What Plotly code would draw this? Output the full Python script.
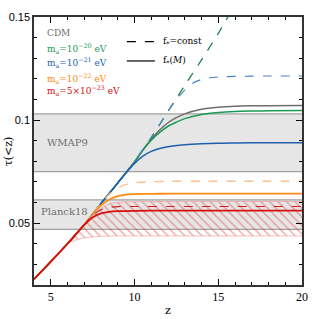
import plotly.graph_objects as go

# ---------------- data ----------------
Z_MAIN = [4, 5, 6, 7, 8, 9, 10, 11, 12, 13, 14, 15, 16]
TAU_MAIN = [0.0228, 0.0313, 0.0400, 0.0492, 0.0595, 0.0695, 0.0797, 0.0915,
            0.1042, 0.1168, 0.1292, 0.1420, 0.1560]

Z_CDM_SOLID = [4, 5, 6, 7, 8, 9, 10, 10.5, 11, 11.5, 12, 12.5, 13, 14, 15, 16, 17, 18, 20]
TAU_CDM_SOLID = [0.0228, 0.0313, 0.0400, 0.0492, 0.0595, 0.0695, 0.0797, 0.0855, 0.0907,
                 0.0952, 0.0987, 0.1012, 0.1030, 0.1052, 0.1062, 0.1067, 0.1069, 0.1070, 0.1071]

Z_M20_SOLID = [4, 5, 6, 7, 8, 9, 10, 10.5, 11, 11.5, 12, 12.5, 13, 14, 15, 16, 17, 18, 20]
TAU_M20_SOLID = [0.0228, 0.0313, 0.0400, 0.0492, 0.0595, 0.0695, 0.0797, 0.0855, 0.0902,
                 0.0940, 0.0970, 0.0990, 0.1007, 0.1027, 0.1037, 0.1042, 0.1044, 0.1045, 0.1046]

Z_M21_DASH = [4, 5, 6, 7, 8, 9, 10, 11, 12, 12.5, 13, 13.5, 14, 14.5, 15, 16, 17, 18, 20]
TAU_M21_DASH = [0.0228, 0.0313, 0.0400, 0.0492, 0.0595, 0.0695, 0.0797, 0.0915, 0.1042,
                0.1100, 0.1145, 0.1180, 0.1197, 0.1205, 0.1209, 0.1212, 0.1213, 0.1214, 0.1214]

Z_M21_SOLID = [4, 5, 6, 7, 8, 9, 9.5, 10, 10.5, 11, 11.5, 12, 13, 14, 15, 16, 18, 20]
TAU_M21_SOLID = [0.0228, 0.0313, 0.0400, 0.0492, 0.0595, 0.0695, 0.0745, 0.0790, 0.0825,
                 0.0848, 0.0862, 0.0871, 0.0880, 0.0885, 0.0888, 0.0889, 0.0890, 0.0890]

Z_M22_DASH = [4, 5, 6, 7, 8, 8.5, 9, 9.5, 10, 11, 12, 14, 20]
TAU_M22_DASH = [0.0228, 0.0313, 0.0400, 0.0492, 0.0595, 0.0640, 0.0671, 0.0688, 0.0696,
                0.0701, 0.0703, 0.0703, 0.0703]

Z_M22_SOLID = [4, 5, 6, 7, 7.5, 8, 8.5, 9, 9.5, 10, 11, 12, 14, 20]
TAU_M22_SOLID = [0.0228, 0.0313, 0.0400, 0.0492, 0.0542, 0.0586, 0.0615, 0.0631, 0.0638,
                 0.0641, 0.0642, 0.0643, 0.0643, 0.0643]

Z_M5_DASH = [4, 5, 6, 7, 7.5, 8, 8.5, 9, 10, 12, 14, 20]
TAU_M5_DASH = [0.0228, 0.0313, 0.0400, 0.0492, 0.0538, 0.0565, 0.0576, 0.0580, 0.0581,
               0.0581, 0.0581, 0.0581]

Z_M5_SOLID = [4, 5, 6, 7, 7.5, 8, 8.5, 9, 10, 12, 14, 20]
TAU_M5_SOLID = [0.0228, 0.0313, 0.0400, 0.0492, 0.0528, 0.0547, 0.0555, 0.0558, 0.0560,
                0.0561, 0.0561, 0.0561]

Z_HATCH = [4, 5, 6, 6.5, 7, 7.5, 8, 8.5, 9, 10, 12, 14, 20]
TAU_HATCH_HI = [0.0228, 0.0313, 0.0400, 0.0446, 0.0492, 0.0538, 0.0572, 0.0594, 0.0601,
                0.0604, 0.0605, 0.0605, 0.0605]
TAU_HATCH_LO = [0.0228, 0.0313, 0.0400, 0.0418, 0.0428, 0.0433, 0.0436, 0.0437, 0.0438,
                0.0438, 0.0438, 0.0438, 0.0438]

WMAP9_BAND = [0.075, 0.103]
PLANCK18_BAND = [0.047, 0.0613]

LEGEND_LABELS = ["CDM", "m<sub>a</sub>=10<sup>−20</sup> eV", "m<sub>a</sub>=10<sup>−21</sup> eV",
                 "m<sub>a</sub>=10<sup>−22</sup> eV", "m<sub>a</sub>=5×10<sup>−23</sup> eV"]
LEGEND_COLORS = ["#6e6e6e", "#1a9a55", "#1f5fae", "#ff8a10", "#d40f0f"]
LINESTYLE_LABELS = ["f<sub>*</sub>=const", "f<sub>*</sub>(<i>M</i>)"]

X_TICKS = [5, 10, 15, 20]
Y_TICKS = [0.05, 0.1, 0.15]
Y_TICK_TEXT = ["0.05", "0.1", "0.15"]

# ---------------- figure ----------------
GREY, GREEN, BLUE, ORANGE, RED = LEGEND_COLORS
SERIF = "DejaVu Serif"
SANS = "Liberation Sans"

fig = go.Figure()

def line(x, y, color, dash="solid", width=1.5):
    fig.add_trace(go.Scatter(x=x, y=y, mode="lines", showlegend=False, hoverinfo="skip",
                             line=dict(color=color, width=width, dash=dash,
                                       shape="spline", smoothing=0.8)))

# CDM & 1e-20 dashed follow the main curve
line(Z_MAIN, TAU_MAIN, GREY, "dash", 1.1)
line(Z_CDM_SOLID, TAU_CDM_SOLID, GREY)
line(Z_MAIN, TAU_MAIN, GREEN, "dash", 1.1)
line(Z_M20_SOLID, TAU_M20_SOLID, GREEN)
line(Z_M21_DASH, TAU_M21_DASH, "#4a80c8", "dash", 1.1)
line(Z_M21_SOLID, TAU_M21_SOLID, BLUE)
line(Z_M22_DASH, TAU_M22_DASH, "#ffc08a", "dash", 1.4)
line(Z_M22_SOLID, TAU_M22_SOLID, ORANGE, "solid", 1.8)

# hatched region
fig.add_trace(go.Scatter(x=Z_HATCH, y=TAU_HATCH_LO, mode="lines", showlegend=False,
                         hoverinfo="skip",
                         line=dict(color="rgba(240,140,140,0.7)", width=0.8,
                                   shape="spline", smoothing=0.8)))
fig.add_trace(go.Scatter(x=Z_HATCH, y=TAU_HATCH_HI, mode="lines", showlegend=False,
                         hoverinfo="skip", fill="tonexty",
                         fillcolor="rgba(0,0,0,0)",
                         fillpattern=dict(shape="\\", size=6, solidity=0.25,
                                          fgcolor="rgba(225,60,60,0.85)",
                                          bgcolor="rgba(0,0,0,0)"),
                         line=dict(color="rgba(240,140,140,0.7)", width=0.8,
                                   shape="spline", smoothing=0.8)))

line(Z_M5_DASH, TAU_M5_DASH, "#d42020", "dash", 1.1)
line(Z_M5_SOLID, TAU_M5_SOLID, RED, "solid", 1.8)

# observational bands
for lo, hi in (WMAP9_BAND, PLANCK18_BAND):
    fig.add_shape(type="rect", xref="paper", yref="y", x0=0, x1=1, y0=lo, y1=hi,
                  fillcolor="#e6e6e6", line=dict(width=0), layer="below")
    for v in (lo, hi):
        fig.add_shape(type="line", xref="paper", yref="y", x0=0, x1=1, y0=v, y1=v,
                      line=dict(color="#a0a0a0", width=1.4), layer="below")

fig.add_annotation(x=0.040, xref="paper", y=sum(WMAP9_BAND) / 2, yref="y", text="WMAP9",
                   showarrow=False, xanchor="left", yanchor="middle",
                   font=dict(family=SERIF, size=10, color="#6e6e6e"))
fig.add_annotation(x=0.020, xref="paper", y=0.0555, yref="y", text="Planck18",
                   showarrow=False, xanchor="left", yanchor="middle",
                   font=dict(family=SERIF, size=10, color="#6e6e6e"))

# left legend (model colours)
for lab, col, yp in zip(LEGEND_LABELS, LEGEND_COLORS, [0.940, 0.881, 0.832, 0.772, 0.724]):
    fig.add_annotation(x=0.040, xref="paper", y=yp, yref="paper", text=lab,
                       showarrow=False, xanchor="left", yanchor="middle",
                       font=dict(family=SERIF, size=9, color=col))

# right legend (line styles)
for lab, dash, yp in zip(LINESTYLE_LABELS, ["dash", "solid"], [0.908, 0.836]):
    fig.add_shape(type="line", xref="paper", yref="paper", x0=0.3465, x1=0.451, y0=yp, y1=yp,
                  line=dict(color="black", width=1.2, dash=dash))
    fig.add_annotation(x=0.4735, xref="paper", y=yp, yref="paper", text=lab,
                       showarrow=False, xanchor="left", yanchor="middle",
                       font=dict(family=SERIF, size=9, color="black"))

# axis titles
fig.add_annotation(x=0.5, xref="paper", y=-0.096, yref="paper", text="z", showarrow=False,
                   xanchor="center", yanchor="middle",
                   font=dict(family=SERIF, size=11, color="black"))
fig.add_annotation(x=-0.096, xref="paper", y=0.5, yref="paper", text="τ(<z)", showarrow=False,
                   textangle=-90, xanchor="center", yanchor="middle",
                   font=dict(family=SERIF, size=11, color="black"))

fig.update_layout(
    width=319, height=319,
    margin=dict(l=34, r=17, t=17, b=34, autoexpand=False),
    plot_bgcolor="white", paper_bgcolor="white",
    showlegend=False,
)
fig.update_xaxes(range=[4, 20], tickvals=X_TICKS, ticks="inside", ticklen=6, tickwidth=1,
                 tickcolor="black", showline=True, linecolor="#333", linewidth=1.5,
                 mirror="ticks", showgrid=False, zeroline=False, automargin=False,
                 minor=dict(dtick=1, ticks="inside", ticklen=3, tickcolor="black", showgrid=False),
                 tickfont=dict(family="Liberation Serif", size=12, color="black"))
fig.update_yaxes(range=[0.02, 0.15], tickvals=Y_TICKS, ticktext=Y_TICK_TEXT, ticks="inside",
                 ticklen=6, tickwidth=1, tickcolor="black", showline=True, linecolor="#333",
                 linewidth=1.5, mirror="ticks", showgrid=False, zeroline=False, automargin=False,
                 minor=dict(dtick=0.01, ticks="inside", ticklen=3, tickcolor="black", showgrid=False),
                 tickfont=dict(family=SANS, size=11, color="black"))

fig.write_html("out.html", config={"displayModeBar": False},
               post_script="document.body.style.margin='0px';")
